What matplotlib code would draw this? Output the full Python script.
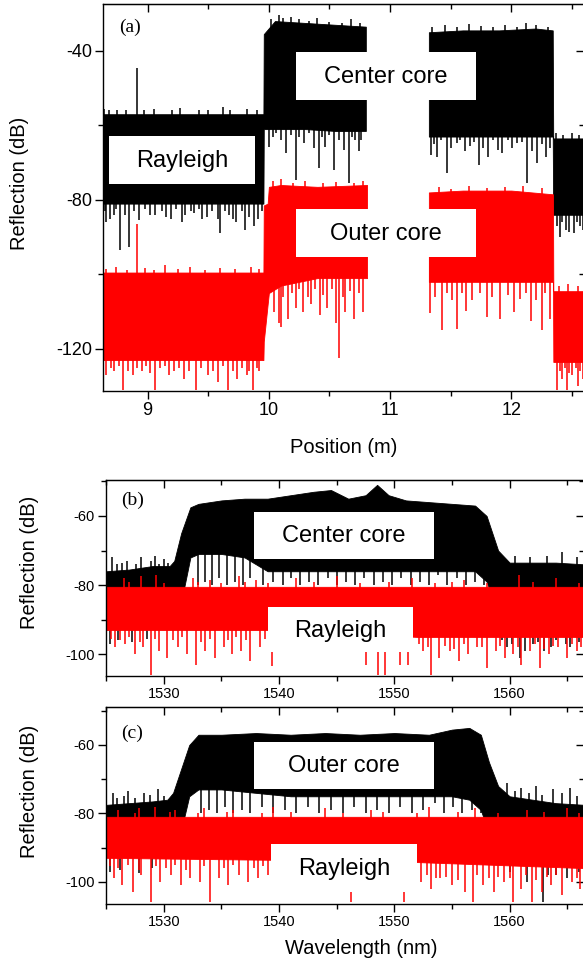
import numpy as np
import matplotlib
matplotlib.use("Agg")
import matplotlib.pyplot as plt
from matplotlib.patches import Rectangle
from matplotlib.ticker import MultipleLocator

plt.rcParams['font.family'] = ['Liberation Sans', 'DejaVu Sans']
plt.rcParams['axes.unicode_minus'] = False

nan = np.nan
# ---------------------------------------------------------------- data
# Panel (a): reflection vs position (m); dense-band envelopes in dB, NaN = no data
a_center_pos = [8.635, 9.955, 9.958, 10.05, 10.30, 10.55, 10.80, nan, 11.32, 11.60, 11.90, 12.20, 12.342, 12.346, 12.61]
a_center_top = [-57.0, -57.0, -35.5, -32.0, -32.5, -33.0, -33.5, nan, -35.0, -34.5, -34.5, -34.0, -34.5, -63.5, -63.5]
a_center_bot = [-81.0, -81.0, -61.0, -61.0, -61.0, -61.5, -61.5, nan, -63.0, -63.0, -63.0, -63.0, -63.0, -84.0, -84.0]
# individual spikes (position, tip value)
a_center_spike_pos = [8.66, 8.72, 8.77, 8.85, 9.02, 9.15, 9.28, 9.38, 9.45, 9.60, 9.70, 9.80, 9.88, 8.91,
                      10.00, 10.06, 10.14, 10.22, 10.29, 10.41, 10.46, 10.54, 10.66, 10.71, 10.76,
                      11.34, 11.39, 11.47, 11.55, 11.66, 11.73, 11.81, 11.92, 12.05, 12.13, 12.21, 12.29,
                      12.40, 12.45, 12.52, 12.57]
a_center_spike_tip = [-86.0, -84.0, -93.5, -92.6, -84.0, -84.5, -86.0, -83.5, -85.0, -89.0, -85.0, -88.0, -87.0, -44.7,
                      -65.8, -62.0, -67.5, -74.7, -64.8, -71.5, -65.8, -72.0, -75.6, -64.0, -64.0,
                      -68.0, -68.5, -72.9, -64.8, -65.6, -70.7, -68.5, -67.5, -64.8, -75.6, -70.2, -68.5,
                      -90.0, -88.0, -89.0, -87.0]
# fringe of short spikes along band edges
a_center_fringe_pos = [8.65, 8.69, 8.74, 8.81, 8.89, 8.93, 8.98, 9.06, 9.12, 9.19, 9.23, 9.31, 9.36, 9.42, 9.49,
                       9.53, 9.58, 9.64, 9.67, 9.73, 9.78, 9.84, 9.91, 9.94,
                       8.64, 8.68, 8.75, 8.82, 8.97, 9.05, 9.20, 9.27, 9.42, 9.50, 9.62, 9.68, 9.82, 9.90,
                       10.02, 10.08, 10.12, 10.18, 10.25, 10.33, 10.40, 10.50, 10.60, 10.68, 10.75,
                       11.35, 11.45, 11.55, 11.65, 11.75, 11.85, 11.95, 12.05, 12.12, 12.20, 12.30,
                       10.03, 10.10, 10.18, 10.25, 10.33, 10.37, 10.44, 10.50, 10.58, 10.62, 10.69, 10.74,
                       11.36, 11.42, 11.50, 11.58, 11.62, 11.69, 11.77, 11.85, 11.89, 11.97, 12.01, 12.09,
                       12.17, 12.25, 12.32,
                       12.37, 12.43, 12.50, 12.56, 12.38, 12.42, 12.48, 12.54, 12.59]
a_center_fringe_tip = [-83.0, -85.0, -82.5, -84.0, -83.0, -85.5, -82.5, -84.0, -83.0, -85.0, -82.5, -84.0, -83.0, -82.5, -84.5,
                       -83.0, -85.0, -83.0, -84.0, -86.0, -83.0, -84.5, -85.0, -83.0,
                       -55.5, -56.0, -55.8, -56.0, -55.8, -55.5, -56.0, -55.3, -55.8, -56.0, -55.2, -55.8, -55.5, -56.0,
                       -31.5, -30.5, -31.2, -30.8, -31.5, -32.0, -31.3, -32.2, -32.5, -31.5, -32.5,
                       -33.5, -33.0, -33.5, -32.8, -33.2, -33.6, -33.0, -33.5, -32.5, -33.0, -33.5,
                       -63.0, -64.0, -62.5, -63.0, -62.0, -66.0, -63.0, -62.5, -64.0, -66.5, -63.0, -67.0,
                       -65.0, -64.0, -66.0, -64.0, -67.0, -64.5, -66.0, -64.0, -66.5, -64.0, -66.0, -64.5,
                       -67.0, -65.0, -66.0,
                       -62.0, -62.5, -62.0, -62.5, -87.0, -86.0, -88.5, -86.0, -88.0]

a_outer_pos = [8.635, 9.955, 9.958, 9.99, 10.00, 10.10, 10.40, 10.81, nan, 11.32, 11.60, 12.00, 12.344, 12.347, 12.61]
a_outer_top = [-99.5, -99.5, -81.5, -81.0, -76.5, -76.0, -76.5, -76.0, nan, -78.0, -77.5, -77.5, -78.5, -104.5, -104.5]
a_outer_bot = [-123.0, -123.0, -118.0, -108.0, -105.0, -103.0, -101.0, -101.0, nan, -102.0, -102.0, -102.0, -102.0, -123.5, -123.5]
a_outer_spike_pos = [8.91, 8.66, 8.72, 8.80, 8.88, 8.95, 9.06, 9.18, 9.30, 9.40, 9.50, 9.58, 9.66, 9.74, 9.82, 9.87, 9.92,
                     10.04, 10.08, 10.10, 10.16, 10.22, 10.28, 10.35, 10.42, 10.48, 10.55, 10.58, 10.63, 10.70, 10.78,
                     11.33, 11.43, 11.55, 11.63, 11.80, 11.91, 12.02, 12.16, 12.25, 12.32,
                     12.38, 12.42, 12.46, 12.50, 12.55, 12.59]
a_outer_spike_tip = [-86.5, -127.0, -126.0, -131.0, -127.0, -126.0, -131.0, -127.0, -128.0, -131.0, -127.0, -129.0, -131.0, -128.0, -127.0, -131.0, -126.0,
                     -110.0, -113.0, -114.0, -112.0, -109.0, -110.0, -108.0, -111.0, -109.0, -113.0, -122.5, -110.0, -112.0, -110.0,
                     -110.4, -115.0, -114.6, -109.9, -111.5, -112.0, -110.0, -112.5, -115.0, -112.0,
                     -131.0, -128.0, -131.0, -127.0, -130.0, -128.0]
a_outer_fringe_pos = [8.66, 8.74, 8.83, 8.98, 9.05, 9.14, 9.25, 9.35, 9.47, 9.60, 9.72, 9.85, 9.92,
                      8.70, 8.76, 8.84, 8.91, 8.99, 9.02, 9.10, 9.14, 9.22, 9.26, 9.34, 9.44, 9.54, 9.62, 9.70, 9.78, 9.84, 9.90,
                      10.03, 10.10, 10.20, 10.30, 10.45, 10.55, 10.70, 10.78,
                      10.12, 10.19, 10.25, 10.32, 10.38, 10.45, 10.52, 10.61, 10.67, 10.74,
                      11.40, 11.50, 11.65, 11.80, 11.95, 12.10, 12.25,
                      11.37, 11.47, 11.51, 11.59, 11.68, 11.74, 11.84, 11.97, 12.07, 12.12, 12.20, 12.28,
                      12.40, 12.44, 12.48, 12.53, 12.57, 12.39, 12.47, 12.55]
a_outer_fringe_tip = [-98.5, -98.0, -98.7, -98.2, -98.8, -97.5, -98.5, -98.0, -98.7, -98.2, -98.5, -98.0, -98.6,
                      -125.0, -124.5, -126.0, -125.0, -124.5, -126.5, -125.0, -124.5, -126.0, -125.0, -126.0, -125.0, -126.0, -124.5, -126.0, -125.0, -126.0, -125.0,
                      -75.0, -74.5, -75.5, -75.0, -75.5, -75.2, -75.5, -74.8,
                      -106.0, -105.0, -104.0, -106.0, -104.0, -105.5, -104.0, -106.0, -104.5, -105.0,
                      -76.5, -77.0, -76.2, -76.8, -76.5, -76.3, -76.8,
                      -106.0, -105.0, -107.0, -105.0, -107.0, -105.0, -106.0, -105.5, -106.5, -105.0, -107.0, -105.0,
                      -126.0, -125.0, -126.5, -125.0, -126.0, -103.0, -102.5, -103.0]

# Panel (b): center core vs Rayleigh, reflection vs wavelength (nm)
b_center_wl = [1525.0, 1527.0, 1529.0, 1530.5, 1530.9, 1531.5, 1532.3, 1533.0, 1535.0, 1537.0, 1539.0, 1541.0, 1543.0,
               1544.5, 1546.0, 1547.5, 1548.5, 1549.5, 1551.0, 1553.0, 1555.0, 1557.0, 1558.0, 1559.0, 1560.0, 1562.0, 1564.0, 1566.5]
b_center_top = [-76.0, -75.5, -74.5, -74.5, -73.0, -65.0, -57.5, -56.5, -55.5, -55.0, -55.0, -54.0, -53.0,
                -52.5, -55.0, -54.0, -51.0, -54.0, -55.5, -56.0, -56.5, -57.0, -60.0, -70.0, -73.5, -73.5, -73.5, -74.0]
b_center_bot = [-91.0, -91.0, -91.0, -91.0, -90.0, -85.0, -72.0, -71.0, -71.0, -72.0, -76.0, -76.0, -76.0,
                -76.0, -76.0, -76.0, -76.0, -76.0, -76.0, -76.0, -76.0, -76.0, -79.0, -88.0, -92.0, -92.0, -92.0, -92.0]
b_center_spike_wl = [1525.5, 1526.8, 1528.0, 1529.2, 1530.0, 1560.5, 1561.8, 1563.2, 1564.5, 1565.8,
                     1525.3, 1526.0, 1527.2, 1528.5, 1559.8, 1560.9, 1562.0, 1563.0, 1564.0, 1565.2,
                     1533.0, 1533.6, 1534.2, 1534.8, 1535.5, 1536.2, 1536.9, 1537.5, 1538.6, 1539.5, 1540.3, 1541.0,
                     1541.8, 1542.6, 1543.4, 1544.2, 1545.0, 1545.8, 1546.6, 1547.4, 1548.2, 1549.0, 1549.8, 1550.6,
                     1551.4, 1552.2, 1553.0, 1553.8, 1554.6, 1555.4, 1556.2, 1557.0, 1557.8,
                     1525.9, 1526.4, 1527.6, 1528.9, 1529.6, 1530.4, 1559.3, 1560.2, 1561.3, 1562.5, 1563.6, 1564.9, 1566.0]
b_center_spike_tip = [-72.0, -73.0, -72.0, -71.5, -72.5, -71.5, -72.0, -71.5, -70.5, -72.0,
                      -97.0, -96.0, -96.5, -95.5, -98.0, -101.0, -97.0, -99.0, -96.0, -98.0,
                      -80.0, -79.0, -80.0, -78.0, -80.0, -79.0, -80.0, -78.0, -80.0, -79.0, -80.0, -78.0,
                      -80.0, -79.0, -80.0, -78.0, -80.0, -79.0, -80.0, -78.0, -80.0, -79.0, -80.0, -78.0,
                      -80.0, -79.0, -80.0, -77.0, -80.0, -78.0, -80.0, -79.0, -80.0,
                      -74.0, -73.5, -74.0, -73.0, -74.0, -73.5, -96.0, -97.0, -99.0, -96.5, -98.0, -97.0, -96.5]

b_ray_wl = [1525.0, 1540.0, 1552.0, 1566.5]
b_ray_top = [-80.5, -80.5, -80.5, -80.5]
b_ray_bot = [-93.0, -93.0, -95.0, -95.0]
b_ray_spike_wl = [1525.8, 1526.6, 1527.5, 1528.2, 1528.9, 1529.6, 1530.3, 1531.2, 1532.0, 1532.8, 1533.6, 1534.4,
                  1535.2, 1535.9, 1536.7, 1537.5, 1538.3, 1539.4, 1547.5, 1548.6, 1549.2, 1550.5, 1551.2, 1552.5,
                  1553.2, 1553.9, 1554.8, 1555.6, 1556.4, 1557.2, 1558.0, 1558.8, 1559.6, 1560.3, 1561.0, 1561.8,
                  1562.6, 1563.4, 1564.2, 1565.0, 1565.8,
                  1526.5, 1528.0, 1529.3, 1532.5, 1534.0, 1536.5, 1538.0, 1541.5, 1545.0, 1551.5, 1556.0, 1560.8, 1564.0,
                  1525.4, 1526.2, 1527.0, 1527.9, 1529.2, 1530.8, 1531.6, 1533.2, 1534.0, 1535.6, 1536.3, 1537.1, 1538.8,
                  1552.1, 1552.9, 1554.4, 1555.2, 1556.0, 1557.6, 1559.2, 1560.7, 1562.2, 1563.0, 1563.8, 1565.4, 1566.2,
                  1527.0, 1530.0, 1533.0, 1535.0, 1537.0, 1539.0, 1543.0, 1547.0, 1549.5, 1553.5, 1555.0, 1558.0, 1562.0, 1566.0]
b_ray_spike_tip = [-98.0, -97.0, -100.0, -98.0, -106.0, -99.0, -101.0, -98.0, -100.0, -103.0, -99.0, -101.0,
                   -98.0, -100.0, -99.0, -102.0, -98.0, -103.5, -103.0, -106.0, -106.0, -103.0, -103.0, -99.0,
                   -106.0, -101.0, -99.0, -102.0, -100.0, -98.0, -104.0, -99.0, -101.0, -100.0, -103.0, -99.0,
                   -104.0, -100.0, -98.0, -101.0, -99.0,
                   -78.0, -77.5, -77.0, -78.0, -78.5, -77.5, -78.5, -78.0, -77.5, -78.0, -78.5, -77.0, -78.0,
                   -95.5, -96.0, -95.0, -96.5, -95.5, -96.0, -95.0, -96.5, -95.5, -96.0, -95.0, -96.0, -95.5,
                   -97.0, -98.0, -97.5, -98.5, -97.0, -98.0, -97.5, -98.0, -97.0, -98.5, -97.5, -97.0, -98.0,
                   -79.0, -79.5, -79.0, -79.5, -79.0, -79.5, -79.0, -79.5, -79.0, -79.5, -79.0, -79.5, -79.0, -79.5]

# Panel (c): outer core vs Rayleigh
c_outer_wl = [1525.0, 1527.0, 1529.0, 1530.3, 1530.8, 1531.5, 1532.2, 1533.0, 1535.0, 1538.0, 1541.0, 1544.0,
              1547.0, 1550.0, 1553.0, 1555.0, 1556.5, 1557.5, 1558.2, 1559.0, 1560.0, 1562.0, 1564.0, 1566.5]
c_outer_top = [-77.5, -77.0, -76.5, -76.0, -74.0, -67.0, -60.0, -57.0, -57.0, -56.5, -57.0, -56.5,
               -57.0, -56.5, -57.0, -55.5, -55.0, -57.0, -65.0, -72.0, -75.0, -76.0, -77.0, -77.5]
c_outer_bot = [-91.0, -91.0, -91.0, -91.0, -90.0, -85.0, -75.0, -73.0, -73.0, -74.0, -75.0, -75.0,
               -75.0, -75.0, -75.0, -75.0, -76.0, -79.0, -86.0, -91.0, -92.0, -92.0, -92.0, -92.0]
c_outer_spike_wl = [1525.6, 1526.9, 1528.3, 1529.5, 1559.8, 1561.0, 1562.3, 1563.8, 1565.2,
                    1562.9, 1561.5, 1564.0, 1565.0, 1560.0,
                    1533.2, 1533.9, 1534.6, 1535.3, 1536.0, 1536.8, 1537.5, 1538.5, 1539.5, 1540.5, 1541.5,
                    1542.5, 1543.5, 1544.5, 1545.5, 1546.5, 1547.5, 1548.5, 1549.5, 1550.5, 1551.5, 1552.5,
                    1553.5, 1554.3, 1555.1, 1555.9, 1556.7, 1557.5,
                    1525.9, 1526.5, 1527.5, 1528.8, 1530.0, 1560.5, 1561.7, 1562.8, 1564.5, 1565.8,
                    1525.3, 1526.2, 1527.8, 1529.0, 1563.3, 1566.0]
c_outer_spike_tip = [-74.0, -73.5, -74.0, -73.0, -71.0, -72.5, -72.0, -73.0, -72.5,
                     -106.0, -100.0, -98.0, -99.0, -97.0,
                     -80.0, -79.0, -80.0, -78.0, -80.0, -79.0, -80.0, -78.0, -80.0, -79.0, -80.0,
                     -78.0, -80.0, -79.0, -80.0, -78.0, -80.0, -79.0, -80.0, -78.0, -80.0, -79.0,
                     -77.0, -80.0, -78.0, -80.0, -79.0, -80.0,
                     -75.5, -75.0, -75.5, -74.5, -75.0, -73.5, -74.0, -74.5, -74.0, -75.0,
                     -97.0, -96.5, -97.5, -96.0, -98.0, -97.0]

c_ray_wl = [1525.0, 1550.0, 1566.5]
c_ray_top = [-81.0, -81.0, -81.0]
c_ray_bot = [-93.0, -94.0, -96.0]
c_ray_spike_wl = [1525.7, 1526.4, 1527.3, 1528.0, 1528.9, 1529.7, 1530.6, 1531.5, 1532.3, 1533.1, 1534.0, 1534.8,
                  1535.6, 1536.5, 1537.3, 1538.2, 1539.0, 1546.2, 1550.8, 1552.3, 1553.2, 1554.0, 1555.0, 1556.1,
                  1556.8, 1557.7, 1558.6, 1559.5, 1560.3, 1561.0, 1561.9, 1562.8, 1563.6, 1564.5, 1565.4, 1566.1,
                  1526.0, 1527.8, 1529.2, 1531.0, 1533.5, 1536.0, 1539.5, 1544.0, 1548.0, 1553.0, 1557.0, 1561.5, 1565.0,
                  1525.3, 1526.0, 1526.9, 1527.8, 1529.3, 1530.2, 1531.0, 1531.9, 1533.5, 1535.2, 1536.0, 1537.8, 1538.6,
                  1552.8, 1553.6, 1554.5, 1555.5, 1557.2, 1558.2, 1559.0, 1560.0, 1561.4, 1562.3, 1563.2, 1564.0, 1565.8,
                  1527.5, 1530.5, 1533.0, 1535.5, 1538.5, 1541.0, 1545.5, 1549.0, 1552.0, 1555.5, 1559.0, 1563.0, 1566.0]
c_ray_spike_tip = [-99.0, -101.0, -103.0, -98.0, -106.0, -100.0, -98.0, -101.0, -99.0, -100.0, -106.0, -99.0,
                   -101.0, -98.0, -100.0, -99.0, -98.0, -106.0, -106.0, -100.0, -102.0, -99.0, -101.0, -103.0,
                   -106.0, -101.0, -103.0, -100.0, -106.0, -102.0, -106.0, -103.0, -101.0, -104.0, -100.0, -102.0,
                   -79.0, -78.5, -78.0, -79.0, -78.5, -79.0, -78.0, -78.5, -79.0, -78.0, -78.5, -79.0, -78.5,
                   -95.5, -96.0, -95.0, -96.5, -95.5, -96.0, -95.0, -96.5, -95.5, -96.0, -95.0, -96.0, -95.5,
                   -98.0, -99.0, -98.5, -99.5, -98.0, -99.0, -98.5, -99.0, -98.0, -99.5, -98.5, -98.0, -99.0,
                   -80.0, -79.5, -80.0, -79.5, -80.0, -79.5, -80.0, -79.5, -80.0, -79.5, -80.0, -79.5, -80.0]

BLACK = '#000000'
RED = '#ff0000'

# ---------------------------------------------------------------- figure
W, H = 583, 967
fig = plt.figure(figsize=(W / 100, H / 100), dpi=100)


def px_axes(l, t, r, b):
    return fig.add_axes([l / W, 1 - b / H, (r - l) / W, (b - t) / H])


def draw_band(ax, pos, top, bot, color):
    pos = np.asarray(pos, float)
    top = np.asarray(top, float)
    bot = np.asarray(bot, float)
    idx = np.where(np.isnan(pos))[0]
    starts = [0] + list(idx + 1)
    ends = list(idx) + [len(pos)]
    for s, e in zip(starts, ends):
        if e - s >= 2:
            ax.fill_between(pos[s:e], bot[s:e], top[s:e], color=color, lw=0.6,
                            edgecolor=color, zorder=2)
    ok = ~np.isnan(pos)
    return pos[ok], ((top + bot) / 2)[ok]


def draw_spikes(ax, p, mid, spos, stip, color, lw=1.1):
    base = np.interp(spos, p, mid)
    ax.vlines(spos, base, stip, color=color, lw=lw, zorder=2)


def draw_trace(ax, pos, top, bot, spikes, color):
    p, mid = draw_band(ax, pos, top, bot, color)
    for spos, stip in spikes:
        draw_spikes(ax, p, mid, spos, stip, color)


def style_axes(ax, xmaj, xmin, ymaj, ymin, lsize):
    for sp in ax.spines.values():
        sp.set_linewidth(1.0)
    ax.xaxis.set_major_locator(MultipleLocator(xmaj))
    ax.xaxis.set_minor_locator(MultipleLocator(xmin))
    ax.yaxis.set_major_locator(MultipleLocator(ymaj))
    ax.yaxis.set_minor_locator(MultipleLocator(ymin))
    ax.tick_params(which='major', direction='out', length=6, width=1.0, labelsize=lsize, pad=2)
    ax.tick_params(which='minor', direction='out', length=3.5, width=1.0)
    sx = ax.secondary_xaxis('top')
    sx.xaxis.set_major_locator(MultipleLocator(xmaj))
    sx.xaxis.set_minor_locator(MultipleLocator(xmin))
    sx.tick_params(which='major', direction='in', length=6, width=1.0, labeltop=False)
    sx.tick_params(which='minor', direction='in', length=3.5, width=1.0)
    sy = ax.secondary_yaxis('right')
    sy.yaxis.set_major_locator(MultipleLocator(ymaj))
    sy.yaxis.set_minor_locator(MultipleLocator(ymin))
    sy.tick_params(which='major', direction='in', length=6, width=1.0, labelright=False)
    sy.tick_params(which='minor', direction='in', length=3.5, width=1.0)


def label_box(ax, x0, y0, x1, y1, text, size=17):
    r = Rectangle((x0 / W, 1 - y1 / H), (x1 - x0) / W, (y1 - y0) / H,
                  transform=fig.transFigure, facecolor='white', edgecolor='none',
                  zorder=5, clip_on=False)
    ax.add_artist(r)
    ax.text((x0 + x1) / 2 / W, 1 - ((y0 + y1) / 2 + 1) / H, text, transform=fig.transFigure,
            ha='center', va='center', fontsize=size, color='black', zorder=6)


def panel_tag(ax, x, y, text):
    ax.text(x / W, 1 - y / H, text, transform=fig.transFigure, ha='center', va='center',
            fontsize=14, family=['Liberation Serif', 'DejaVu Serif'])


# ---------------- panel (a)
axa = px_axes(103.3, 4.3, 584, 391)
draw_trace(axa, a_center_pos, a_center_top, a_center_bot,
           [(a_center_spike_pos, a_center_spike_tip), (a_center_fringe_pos, a_center_fringe_tip)], BLACK)
draw_trace(axa, a_outer_pos, a_outer_top, a_outer_bot,
           [(a_outer_spike_pos, a_outer_spike_tip), (a_outer_fringe_pos, a_outer_fringe_tip)], RED)
axa.set_xlim(8.634, 12.60)
axa.set_ylim(-131.3, -27.5)
style_axes(axa, 1, 0.5, 40, 20, 13)
axa.set_xlabel('Position (m)', fontsize=14.5)
axa.set_ylabel('Reflection (dB)', fontsize=14.5)
axa.xaxis.set_label_coords(0.5, -0.122)
axa.yaxis.set_label_coords(-0.155, 0.536)
panel_tag(axa, 130, 27, '(a)')
label_box(axa, 109, 136, 255, 184, 'Rayleigh')
label_box(axa, 296, 52, 476, 100, 'Center core')
label_box(axa, 296, 209, 476, 257, 'Outer core')

# ---------------- panel (b)
axb = px_axes(106, 480, 584, 676)
draw_trace(axb, b_center_wl, b_center_top, b_center_bot, [(b_center_spike_wl, b_center_spike_tip)], BLACK)
draw_trace(axb, b_ray_wl, b_ray_top, b_ray_bot, [(b_ray_spike_wl, b_ray_spike_tip)], RED)
axb.set_xlim(1524.98, 1566.45)
axb.set_ylim(-106.3, -49.6)
style_axes(axb, 10, 5, 20, 10, 10.5)
axb.set_ylabel('Reflection (dB)', fontsize=14.5)
axb.yaxis.set_label_coords(-0.14, 0.582)
panel_tag(axb, 133, 500, '(b)')
label_box(axb, 254, 512, 434, 559, 'Center core')
label_box(axb, 268, 607, 413, 652, 'Rayleigh')

# ---------------- panel (c)
axc = px_axes(106, 706.7, 584, 904)
draw_trace(axc, c_outer_wl, c_outer_top, c_outer_bot, [(c_outer_spike_wl, c_outer_spike_tip)], BLACK)
draw_trace(axc, c_ray_wl, c_ray_top, c_ray_bot, [(c_ray_spike_wl, c_ray_spike_tip)], RED)
axc.set_xlim(1524.98, 1566.45)
axc.set_ylim(-106.5, -48.8)
style_axes(axc, 10, 5, 20, 10, 10.5)
axc.set_ylabel('Reflection (dB)', fontsize=14.5)
axc.set_xlabel('Wavelength (nm)', fontsize=14.5)
axc.yaxis.set_label_coords(-0.14, 0.573)
axc.xaxis.set_label_coords(0.533, -0.175)
panel_tag(axc, 132, 733, '(c)')
label_box(axc, 254, 742, 434, 789, 'Outer core')
label_box(axc, 271, 844, 417, 892, 'Rayleigh')

fig.savefig('out.png', dpi=100)
